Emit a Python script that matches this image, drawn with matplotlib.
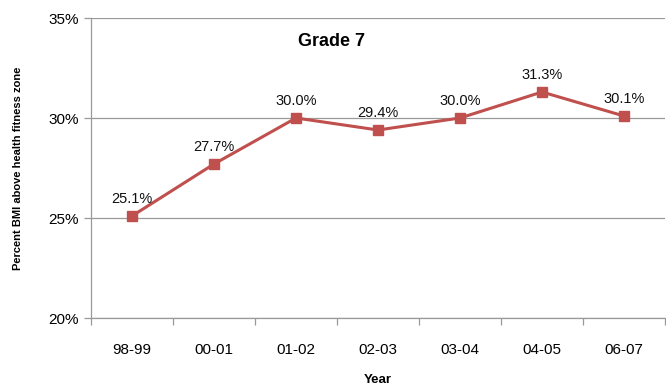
import matplotlib
matplotlib.use("Agg")
import matplotlib.pyplot as plt
from matplotlib.ticker import FixedLocator, FuncFormatter

years = ["98-99", "00-01", "01-02", "02-03", "03-04", "04-05", "06-07"]
values = [25.1, 27.7, 30.0, 29.4, 30.0, 31.3, 30.1]
yticks = [20, 25, 30, 35]

plt.rcParams['font.family'] = ['Liberation Sans', 'DejaVu Sans']

fig = plt.figure(figsize=(6.66, 3.89), dpi=100)
ax = fig.add_axes([91/666, 1-318/389, (665-91)/666, 300/389])

x = list(range(len(years)))
ax.plot(x, values, color='#C0504D', lw=2.2, marker='s', ms=6.5, zorder=3)
for xi, v in zip(x, values):
    ax.annotate(f"{v:.1f}%", (xi, v), xytext=(0, 7), textcoords='offset points',
                ha='center', va='bottom', fontsize=10.5, color='#111111')

ax.set_xlim(-0.5, len(years) - 0.5)
ax.set_ylim(20, 35)
ax.set_yticks(yticks)
ax.yaxis.set_major_formatter(FuncFormatter(lambda v, p: f"{int(v)}%"))
ax.grid(axis='y', color='#999999', lw=0.9)
ax.set_axisbelow(True)

ax.set_xticks(x)
ax.set_xticklabels(years, fontsize=11)
ax.xaxis.set_minor_locator(FixedLocator([i - 0.5 for i in range(len(years) + 1)]))
ax.tick_params(axis='x', which='major', length=0, pad=18)
ax.tick_params(axis='x', which='minor', length=5, color='#999999', width=0.9)
ax.tick_params(axis='y', length=5, color='#999999', width=0.9, labelsize=11, pad=4)

for s in ['top', 'right']:
    ax.spines[s].set_visible(False)
for s in ['left', 'bottom']:
    ax.spines[s].set_color('#999999')
    ax.spines[s].set_linewidth(0.9)

ax.set_xlabel("Year", fontsize=9.5, fontweight='bold', labelpad=12)
ax.set_ylabel("Percent BMI above health fitness zone", fontsize=8, fontweight='bold', labelpad=18)
fig.text(331/666, 1-42/389, "Grade 7", ha='center', va='center', fontsize=13, fontweight='bold')

fig.savefig("out.png", dpi=100)
